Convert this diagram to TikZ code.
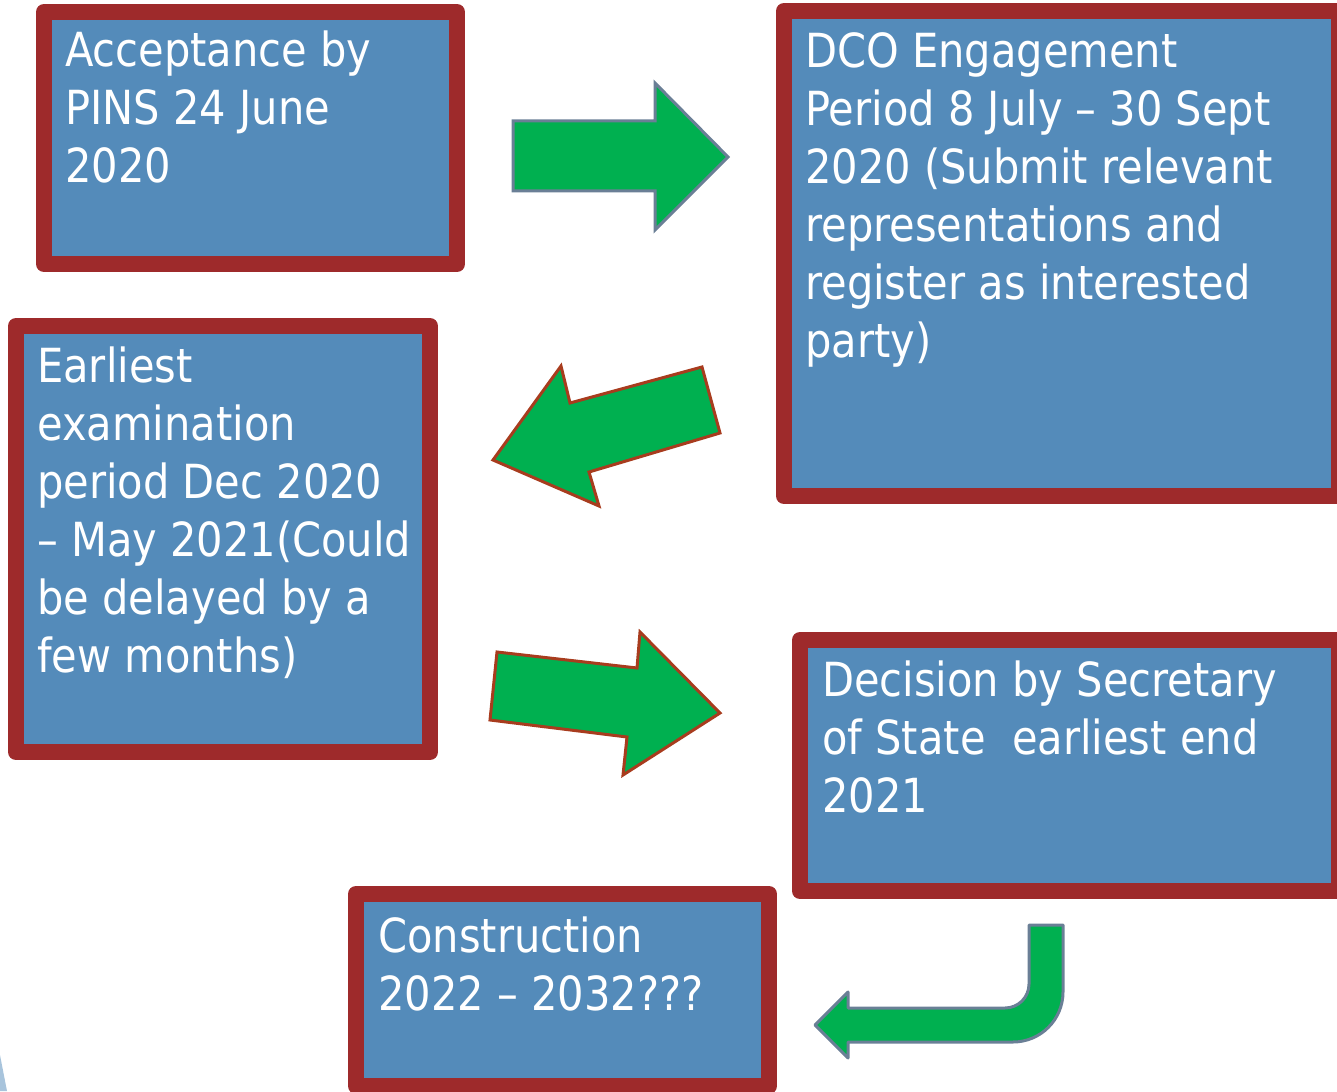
\documentclass[tikz,border=0pt]{standalone}
\usepackage{fontspec}
\setmainfont{DejaVu Sans}[FakeStretch=0.885]
\definecolor{boxblue}{RGB}{84,139,186}
\definecolor{boxred}{RGB}{158,42,43}
\definecolor{arrgreen}{RGB}{0,176,80}
\definecolor{arrgray}{RGB}{106,127,150}
\definecolor{arrbrown}{RGB}{168,60,30}
\definecolor{sliver}{RGB}{168,196,220}
\begin{document}
\begin{tikzpicture}[x=1pt,y=-1pt,
  box/.style={draw=boxred, fill=boxblue, line width=16pt, line join=round, inner sep=0pt, outer sep=0pt, anchor=north west},
  label/.style={anchor=base west, align=left, text=white, inner sep=0pt, font=\fontsize{47}{58}\selectfont},
  grayarrow/.style={fill=arrgreen, draw=arrgray, line width=3pt, line join=miter},
  brownarrow/.style={fill=arrgreen, draw=arrbrown, line width=3pt, line join=miter}]
\useasboundingbox (0,0) rectangle (1337,1091);
\clip (0,0) rectangle (1337,1091);
\fill[sliver] (0,1055) -- (7,1091) -- (0,1091) -- cycle;
% boxes
\node[box, minimum width=413pt, minimum height=252pt] (b1) at (44,12) {};
\node[box, minimum width=555pt, minimum height=485pt] (b2) at (784,11) {};
\node[box, minimum width=414pt, minimum height=426pt] (b3) at (16,326) {};
\node[box, minimum width=539pt, minimum height=251pt] (b4) at (800,640) {};
\node[box, minimum width=413pt, minimum height=192pt] (b5) at (356,894) {};
% texts (anchor = baseline of last line)
\node[label] (t1) at (65,183) {Acceptance by\\PINS 24 June\\2020};
\node[label] (t2) at (805,357) {DCO Engagement\\Period 8 July – 30 Sept\\2020 (Submit relevant\\representations and\\register as interested\\party)};
\node[label] (t3) at (37,672) {Earliest\\examination\\period Dec 2020\\– May 2021(Could\\be delayed by a\\few months)};
\node[label] (t4) at (822,812) {Decision by Secretary\\of State\ \ earliest end\\2021};
\node[label] (t5) at (378,1010) {Construction\\2022 – 2032???};
% arrows
\draw[grayarrow] (513,121) -- (655,121) -- (655,83) -- (728,157) -- (655,230) -- (655,191) -- (513,191) -- cycle;
\draw[brownarrow] (493,460) -- (561,366) -- (570,403) -- (702,367) -- (720,433) -- (589,472) -- (599,506) -- cycle;
\draw[brownarrow] (497,652) -- (637,668) -- (640,632) -- (720,713) -- (623,775) -- (627,737) -- (490,720) -- cycle;
\draw[grayarrow, line join=round] (1029,925) -- (1063,925) -- (1063,992)
  .. controls (1063,1019.6) and (1040.6,1042) .. (1013,1042)
  -- (848,1042) -- (848,1058) -- (815,1025) -- (848,992) -- (848,1008) -- (1005,1008)
  .. controls (1018.3,1008) and (1029,997.3) .. (1029,984) -- cycle;
\end{tikzpicture}
\end{document}
